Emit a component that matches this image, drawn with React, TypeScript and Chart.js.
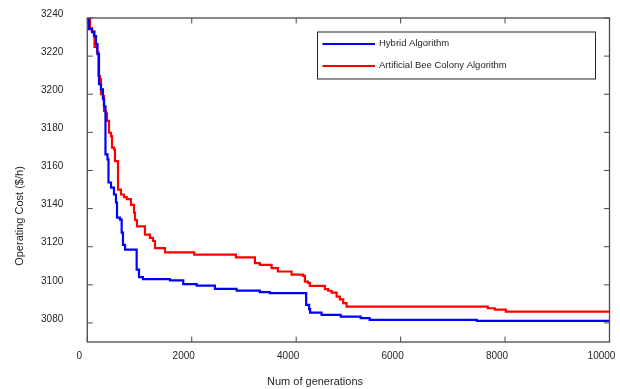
import { useEffect, useRef } from 'react';
import { Chart, registerables } from 'chart.js';

Chart.register(...registerables);

const seriesLabels = ['Hybrid Algorithm', 'Artificial Bee Colony Algorithm'];
const seriesColors = ['#0000ff', '#ff0000'];

const hybridGen = [0, 33, 90, 128, 167, 195, 224, 262, 300, 320, 348, 387, 406, 454, 511, 549, 569, 626, 658, 683, 722, 945, 990, 1066, 1583, 1837, 2094, 2444, 2859, 3305, 3496, 4191, 4248, 4267, 4486, 4853, 5235, 5407, 7459, 10000];
const hybridCost = [3250, 3234.2, 3232.6, 3230.5, 3226.3, 3221, 3205.3, 3202.6, 3197.4, 3193.7, 3168.4, 3165.8, 3153.7, 3151, 3147.4, 3143.2, 3135.3, 3134.2, 3127.4, 3121, 3118.5, 3108, 3104, 3103, 3102.3, 3100.4, 3099.6, 3097.9, 3097, 3096.2, 3095.6, 3089.5, 3087.2, 3085.4, 3084.2, 3083.3, 3082.5, 3081.6, 3081.1, 3081.1];

const abcGen = [0, 52, 90, 138, 186, 214, 243, 262, 300, 320, 358, 377, 416, 454, 473, 511, 530, 588, 645, 702, 754, 836, 894, 913, 951, 1104, 1200, 1258, 1296, 1487, 2048, 2846, 3210, 3305, 3529, 3650, 3912, 4134, 4167, 4230, 4263, 4550, 4613, 4678, 4774, 4837, 4900, 4965, 7669, 7803, 8014, 10000];
const abcCost = [3250, 3234.7, 3233, 3224.9, 3222, 3209.6, 3208, 3200, 3199, 3191.2, 3190, 3186, 3179.8, 3178, 3172, 3171, 3164.9, 3150, 3147.4, 3146, 3145, 3142, 3137.9, 3134, 3130.7, 3126.3, 3124.6, 3123, 3119.3, 3117, 3115.8, 3114.4, 3111.4, 3110.5, 3108.8, 3107, 3105.3, 3104.7, 3101.7, 3100.9, 3099.5, 3097.7, 3096.9, 3095.9, 3093.8, 3092.4, 3090.4, 3088.6, 3087.7, 3087, 3085.9, 3085.9];

const xTickValues = [0, 2000, 4000, 6000, 8000, 10000];
const yTickValues = [3080, 3100, 3120, 3140, 3160, 3180, 3200, 3220, 3240];
const xTitle = 'Num of generations';
const yTitle = 'Operating Cost ($/h)';

const FONT = "'Liberation Sans', Arial, Helvetica, sans-serif";
const AXIS_COLOR = '#4a4a4a';
const TEXT_COLOR = '#262626';

const framePlugin = {
  id: 'frame',
  afterDatasetsDraw(chart: any) {
    const { ctx, chartArea: a, scales } = chart;
    const tl = 5.5;
    ctx.save();
    ctx.strokeStyle = AXIS_COLOR;
    ctx.lineWidth = 1.3;
    ctx.strokeRect(a.left, a.top, a.right - a.left, a.bottom - a.top);
    ctx.lineWidth = 1;
    ctx.beginPath();
    for (const v of xTickValues) {
      const px = scales.x.getPixelForValue(v);
      ctx.moveTo(px, a.bottom);
      ctx.lineTo(px, a.bottom - tl);
      ctx.moveTo(px, a.top);
      ctx.lineTo(px, a.top + tl);
    }
    for (const v of yTickValues) {
      const py = scales.y.getPixelForValue(v);
      ctx.moveTo(a.left, py);
      ctx.lineTo(a.left + tl, py);
      ctx.moveTo(a.right, py);
      ctx.lineTo(a.right - tl, py);
    }
    ctx.stroke();
    ctx.restore();
  },
};

const legendPlugin = {
  id: 'customLegend',
  afterDraw(chart: any) {
    const { ctx } = chart;
    const bx = 317.5, by = 32, bw = 278, bh = 47;
    ctx.save();
    ctx.fillStyle = '#ffffff';
    ctx.fillRect(bx, by, bw, bh);
    ctx.strokeStyle = '#262626';
    ctx.lineWidth = 1;
    ctx.strokeRect(bx, by, bw, bh);
    chart.data.datasets.forEach((ds: any, i: number) => {
      const y = by + 12 + i * 22;
      ctx.strokeStyle = ds.borderColor;
      ctx.lineWidth = 2;
      ctx.beginPath();
      ctx.moveTo(bx + 5, y);
      ctx.lineTo(bx + 57.5, y);
      ctx.stroke();
      ctx.fillStyle = TEXT_COLOR;
      ctx.font = `9.5px ${FONT}`;
      ctx.textAlign = 'left';
      ctx.textBaseline = 'middle';
      ctx.fillText(ds.label, bx + 61.5, y - 1);
    });
    ctx.restore();
  },
};

const titlesPlugin = {
  id: 'axisTitles',
  afterDraw(chart: any) {
    const { ctx } = chart;
    ctx.save();
    ctx.fillStyle = TEXT_COLOR;
    ctx.font = `11px ${FONT}`;
    ctx.textAlign = 'center';
    ctx.textBaseline = 'middle';
    ctx.fillText(xTitle, 315, 382);
    ctx.translate(20, 216);
    ctx.rotate(-Math.PI / 2);
    ctx.fillText(yTitle, 0, 0);
    ctx.restore();
  },
};

export default function App() {
  const canvasRef = useRef<HTMLCanvasElement | null>(null);

  useEffect(() => {
    if (!canvasRef.current) return;
    const mk = (gx: number[], cy: number[]) => gx.map((g, i) => ({ x: g, y: cy[i] }));
    const chart = new Chart(canvasRef.current, {
      type: 'line',
      data: {
        datasets: [
          {
            label: seriesLabels[0],
            data: mk(hybridGen, hybridCost),
            borderColor: seriesColors[0],
            backgroundColor: seriesColors[0],
            borderWidth: 2.2,
            pointRadius: 0,
            stepped: true,
            fill: false,
          },
          {
            label: seriesLabels[1],
            data: mk(abcGen, abcCost),
            borderColor: seriesColors[1],
            backgroundColor: seriesColors[1],
            borderWidth: 2.2,
            pointRadius: 0,
            stepped: true,
            fill: false,
          },
        ],
      },
      options: {
        responsive: false,
        animation: false,
        devicePixelRatio: 1,
        layout: { padding: { top: 18, right: 10.5, left: 0, bottom: 0 } },
        plugins: { legend: { display: false }, tooltip: { enabled: false } },
        scales: {
          x: {
            type: 'linear',
            min: 0,
            max: 10000,
            afterBuildTicks: (s: any) => {
              s.ticks = xTickValues.map((v) => ({ value: v }));
            },
            afterFit: (s: any) => {
              s.height = 47;
              s.paddingLeft = 0;
              s.paddingRight = 0;
            },
            grid: { display: false, drawTicks: false },
            border: { display: false },
            ticks: {
              font: { family: FONT, size: 10 },
              color: TEXT_COLOR,
              padding: 8,
              labelOffset: -8,
              maxRotation: 0,
              autoSkip: false,
              callback: (v: any) => String(v),
            },
          },
          y: {
            type: 'linear',
            min: 3070,
            max: 3240,
            afterBuildTicks: (s: any) => {
              s.ticks = yTickValues.map((v) => ({ value: v }));
            },
            afterFit: (s: any) => {
              s.width = 87.3;
              s.paddingTop = 0;
              s.paddingBottom = 0;
            },
            grid: { display: false, drawTicks: false },
            border: { display: false },
            ticks: {
              font: { family: FONT, size: 10 },
              color: TEXT_COLOR,
              padding: 24,
              labelOffset: -4,
              autoSkip: false,
              callback: (v: any) => String(v),
            },
          },
        },
      },
      plugins: [framePlugin, legendPlugin, titlesPlugin],
    } as any);
    return () => chart.destroy();
  }, []);

  return (
    <div style={{ position: 'fixed', left: 0, top: 0, width: 620, height: 389, background: '#fff' }}>
      <canvas ref={canvasRef} width={620} height={389} />
    </div>
  );
}
